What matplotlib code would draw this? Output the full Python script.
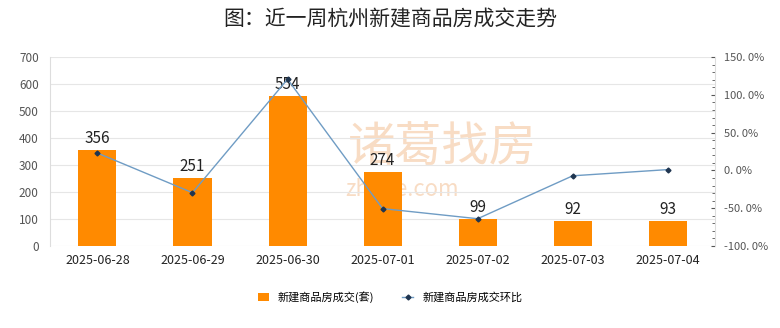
import numpy as np
import matplotlib
matplotlib.use("Agg")
from matplotlib import pyplot as plt
from matplotlib.ticker import MultipleLocator, FuncFormatter

plt.rcParams['font.family'] = ['Noto Sans CJK SC', 'DejaVu Sans']

dates = ["2025-06-28", "2025-06-29", "2025-06-30", "2025-07-01", "2025-07-02", "2025-07-03", "2025-07-04"]
deals = [356, 251, 554, 274, 99, 92, 93]
change = [23.0, -29.5, 120.7, -50.5, -63.9, -7.1, 1.1]

fig = plt.figure(figsize=(7.8, 3.28), dpi=100)
ax = fig.add_axes([0.064, 0.25, 0.853, 0.576])
x = np.arange(len(dates))

# faint watermark behind the bars
ax.text(0.59, 0.52, "诸葛找房", transform=ax.transAxes, fontsize=34, color="#f8dcc4",
        ha="center", va="center", zorder=1)
ax.text(0.53, 0.30, "zhuge.com", transform=ax.transAxes, fontsize=16, color="#f8dcc4",
        ha="center", va="center", zorder=1)

ax.bar(x, deals, width=0.4, color="#FF8A00", zorder=2, label="新建商品房成交(套)")
for xi, v in zip(x, deals):
    ax.text(xi, v + 12, str(v), ha="center", va="bottom", fontsize=11, color="#222222", zorder=5)

ax.set_xlim(-0.5, len(dates) - 0.5)
ax.set_ylim(0, 700)
ax.yaxis.set_major_locator(MultipleLocator(100))
ax.grid(axis="y", color="#e6e6e6", linewidth=0.8, zorder=0)
ax.set_xticks(x)
ax.set_xticklabels(dates, fontsize=9, color="#222222")
ax.tick_params(axis="y", labelsize=8.5, colors="#555555", length=0, pad=8)
ax.tick_params(axis="x", length=0, pad=6)
for s in ["top", "right", "bottom"]:
    ax.spines[s].set_visible(False)
ax.spines["left"].set_color("#dddddd")

ax2 = ax.twinx()
ax2.plot(x, change, color="#6f9cc4", linewidth=1, marker="D", markersize=2.5,
         markerfacecolor="#1f3550", markeredgecolor="#1f3550", zorder=4, label="新建商品房成交环比")
ax2.set_ylim(-100, 150)
ax2.yaxis.set_major_locator(MultipleLocator(50))
ax2.yaxis.set_minor_locator(MultipleLocator(10))
ax2.yaxis.set_major_formatter(FuncFormatter(lambda v, p: f"{v:.1f}%".replace(".", ". ")))
ax2.tick_params(axis="y", which="major", labelsize=8, colors="#555555", length=3, direction="in", pad=6)
ax2.tick_params(axis="y", which="minor", length=2, direction="in", color="#555555")
for s in ["top", "left", "bottom"]:
    ax2.spines[s].set_visible(False)
ax2.spines["right"].set_color("#dddddd")

fig.suptitle("图：近一周杭州新建商品房成交走势", fontsize=15, y=0.975, color="#222222", fontweight="medium")

h1, l1 = ax.get_legend_handles_labels()
h2, l2 = ax2.get_legend_handles_labels()
fig.legend(h1 + h2, l1 + l2, loc="center", bbox_to_anchor=(0.5, 0.095), ncol=2, frameon=False,
           fontsize=8, handlelength=1.0, handleheight=0.7, columnspacing=2.5)

fig.savefig("out.png", dpi=100)
